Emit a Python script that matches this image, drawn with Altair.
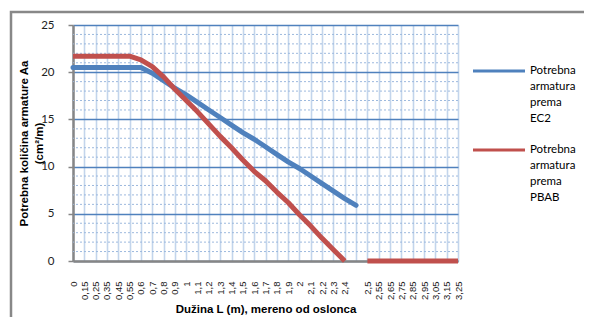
import altair as alt
import pandas as pd

labels = ["0", "0,15", "0,25", "0,35", "0,45", "0,55", "0,6", "0,7", "0,8", "0,9",
          "1", "1,1", "1,2", "1,3", "1,4", "1,5", "1,6", "1,7", "1,8", "1,9",
          "2", "2,1", "2,2", "2,3", "2,4", "", "2,5", "2,55", "2,65", "2,75",
          "2,85", "2,95", "3,05", "3,15", "3,25"]

ec2 = [20.5, 20.5, 20.5, 20.5, 20.5, 20.5, 20.5, 19.9, 19.1, 18.3,
       17.6, 16.8, 16.0, 15.2, 14.4, 13.6, 12.9, 12.1, 11.3, 10.5,
       9.8, 9.0, 8.2, 7.4, 6.6, 5.9, None, None, None, None,
       None, None, None, None, None]

pbab = [21.7, 21.7, 21.7, 21.7, 21.7, 21.7, 21.3, 20.6, 19.5, 18.2,
        17.0, 15.8, 14.5, 13.2, 12.0, 10.7, 9.5, 8.5, 7.3, 6.2,
        4.9, 3.7, 2.4, 1.2, 0.0, None, 0.0, 0.0, 0.0, 0.0,
        0.0, 0.0, 0.0, 0.0, 0.0]

series_names = ["Potrebna armatura prema EC2", "Potrebna armatura prema PBAB"]
colors = ["#4F81BD", "#C0504D"]

y_major = [0, 5, 10, 15, 20, 25]
y_minor = [1, 2, 3, 4, 6, 7, 8, 9, 11, 12, 13, 14, 16, 17, 18, 19, 21, 22, 23, 24]


def build(values, name):
    rows = []
    seg = 0
    for i, v in enumerate(values):
        if v is None:
            seg += 1
            continue
        rows.append({"i": i, "v": v, "s": name, "seg": seg})
    return pd.DataFrame(rows)


df_ec2 = build(ec2, series_names[0])
df_pbab = build(pbab, series_names[1])

label_expr = "[" + ",".join("'" + l + "'" for l in labels) + "][datum.value]"

x_scale = alt.Scale(domain=[0, len(labels) - 1], nice=False, zero=False)
y_scale = alt.Scale(domain=[0, 25], nice=False)

x_axis = alt.Axis(
    values=list(range(len(labels))), labelExpr=label_expr, labelAngle=270,
    labelOverlap=False, labelFlush=False, labelFont="Liberation Sans",
    labelFontSize=9.5, labelColor="#222222", labelPadding=20, ticks=False,
    grid=True, gridColor="#C3D5EC", gridWidth=1.6,
    domainColor="#868686", domainWidth=2.5,
    title="Dužina L (m), mereno od oslonca", titleFont="Liberation Sans",
    titleFontSize=11.5, titleFontWeight="bold", titleColor="#000000",
    titleY=48, titleBaseline="middle",
)

y_axis = alt.Axis(
    values=y_major, labelFlush=False, labelFont="Lato", labelFontSize=11.5,
    labelColor="#222222", labelPadding=14, tickSize=5, tickColor="#868686",
    tickWidth=1.5, grid=True, gridColor="#4F81BD", gridWidth=1.3,
    domainColor="#868686", domainWidth=2.5,
    title=["Potrebna količina armature Aa", "(cm²/m)"], titleFont="Liberation Sans",
    titleFontSize=11.5, titleFontWeight="bold", titleColor="#000000",
    titleAngle=270, titleAlign="center", titleBaseline="top", titleLineHeight=15,
    titleX=-55, titleY=118,
)

color = alt.Color(
    "s:N", scale=alt.Scale(domain=series_names, range=colors), legend=None
)

minor = alt.Chart(pd.DataFrame({"y": y_minor})).mark_rule(
    color="#9DB9DE", strokeWidth=1, strokeDash=[2, 2]
).encode(y=alt.Y("y:Q", scale=y_scale, axis=y_axis))

line_ec2 = alt.Chart(df_ec2).mark_line(
    strokeWidth=5, strokeCap="round", strokeJoin="round"
).encode(
    x=alt.X("i:Q", scale=x_scale, axis=x_axis),
    y=alt.Y("v:Q", scale=y_scale, axis=y_axis),
    color=color, detail="seg:N",
)

line_pbab = alt.Chart(df_pbab).mark_line(
    strokeWidth=5, strokeCap="butt", strokeJoin="round"
).encode(
    x=alt.X("i:Q", scale=x_scale, axis=x_axis),
    y=alt.Y("v:Q", scale=y_scale, axis=y_axis),
    color=color, detail="seg:N",
)

frame = alt.Chart(alt.Data(values=[{"a": 1}])).mark_rect(
    fill=None, stroke="#888888", strokeWidth=2.5
).encode(
    x=alt.value(-62), x2=alt.value(530), y=alt.value(-13), y2=alt.value(320)
)

# legend (drawn by hand so that the labels can wrap over four lines)
legend_layers = []
for k, (name, col) in enumerate(zip(series_names, colors)):
    y0 = 46 + k * 79
    sym = alt.Chart(alt.Data(values=[{"s": name}])).mark_rule(
        color=col, strokeWidth=3
    ).encode(x=alt.value(400), x2=alt.value(452), y=alt.value(y0))
    txt = alt.Chart(alt.Data(values=[{"s": name}])).mark_text(
        align="left", baseline="middle", font="Lato", fontSize=11.5,
        color="#000000", lineBreak=" ", lineHeight=16,
    ).encode(x=alt.value(457), y=alt.value(y0), text="s:N")
    legend_layers += [sym, txt]

chart = alt.layer(minor, line_ec2, line_pbab, frame, *legend_layers).properties(
    width=385, height=236,
    autosize=alt.AutoSizeParams(type="none"),
    padding={"left": 65, "top": 17, "right": 126, "bottom": 56},
    background="white",
).configure_view(stroke=None)

chart.save("out.html", embed_options={"renderer": "svg", "actions": False})
